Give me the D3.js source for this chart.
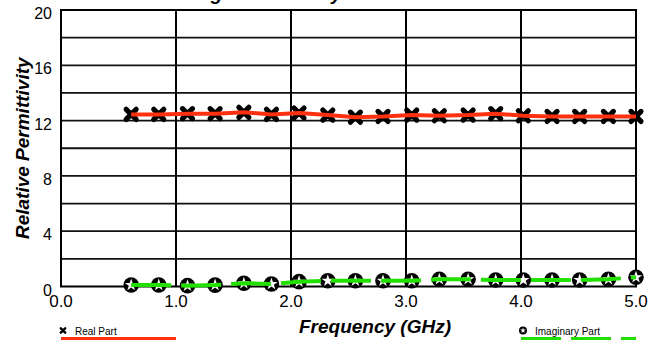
<!DOCTYPE html>
<html>
<head>
<meta charset="utf-8">
<script src="https://cdn.jsdelivr.net/npm/d3@7"></script>
<style>
  body { margin: 0; background: #fff; }
  text { font-family: "Liberation Sans", Arial, Helvetica, sans-serif; }
</style>
</head>
<body>
<div id="chart"></div>
<script>
// Data
var freq = [0.61, 0.85, 1.10, 1.34, 1.59, 1.83, 2.07, 2.32, 2.56, 2.80, 3.05, 3.29, 3.54, 3.78, 4.02, 4.27, 4.51, 4.76, 5.00];
var realPart = [12.45, 12.45, 12.50, 12.50, 12.60, 12.45, 12.55, 12.40, 12.25, 12.30, 12.40, 12.35, 12.40, 12.50, 12.35, 12.30, 12.30, 12.30, 12.30];
var imagPart = [0.11, 0.11, 0.06, 0.10, 0.23, 0.18, 0.35, 0.42, 0.42, 0.42, 0.42, 0.52, 0.52, 0.47, 0.47, 0.47, 0.47, 0.52, 0.67];
var xTicks = [0, 1, 2, 3, 4, 5];
var yTicks = [0, 4, 8, 12, 16, 20];
var yGrid = [2, 4, 6, 8, 10, 12, 14, 16, 18];

var W = 659, H = 340;
var margin = { top: 10, right: 23, bottom: 53.5, left: 61 };

var svg = d3.select("#chart").append("svg")
    .attr("width", W)
    .attr("height", H);

var x = d3.scaleLinear().domain([0, 5]).range([margin.left, W - margin.right]);
var y = d3.scaleLinear().domain([0, 20]).range([H - margin.bottom, margin.top]);

// title, mostly cut off at top
svg.append("text")
    .attr("x", 158)
    .attr("y", 0)
    .style("font-size", "19px")
    .style("font-weight", "bold")
    .style("font-style", "italic")
    .text("Average Permittivity");

// grid
svg.append("g").selectAll("line")
    .data(yGrid)
    .enter().append("line")
    .attr("x1", x(0)).attr("x2", x(5))
    .attr("y1", function (d) { return y(d); })
    .attr("y2", function (d) { return y(d); })
    .attr("stroke", "#111")
    .attr("stroke-width", 1.8);

svg.append("g").selectAll("line")
    .data([1, 2, 3, 4])
    .enter().append("line")
    .attr("y1", y(0)).attr("y2", y(20))
    .attr("x1", function (d) { return x(d); })
    .attr("x2", function (d) { return x(d); })
    .attr("stroke", "#000")
    .attr("stroke-width", 2);

svg.append("rect")
    .attr("x", x(0)).attr("y", y(20))
    .attr("width", x(5) - x(0)).attr("height", y(0) - y(20))
    .attr("fill", "none")
    .attr("stroke", "#000")
    .attr("stroke-width", 2);

// tick labels
svg.append("g").selectAll("text")
    .data(yTicks)
    .enter().append("text")
    .attr("x", 52)
    .attr("y", function (d) { return y(d) + 9; })
    .attr("text-anchor", "end")
    .style("font-size", "16px")
    .text(function (d) { return d; });

svg.append("g").selectAll("text")
    .data(xTicks)
    .enter().append("text")
    .attr("x", function (d) { return x(d); })
    .attr("y", 307)
    .attr("text-anchor", "middle")
    .style("font-size", "17px")
    .text(function (d) { return d.toFixed(1); });

// axis titles
svg.append("text")
    .attr("transform", "translate(29," + y(10) + ") rotate(-90)")
    .attr("text-anchor", "middle")
    .style("font-size", "19px")
    .style("font-weight", "bold")
    .style("font-style", "italic")
    .text("Relative Permittivity");

svg.append("text")
    .attr("x", 375)
    .attr("y", 333)
    .attr("text-anchor", "middle")
    .style("font-size", "19px")
    .style("font-weight", "bold")
    .style("font-style", "italic")
    .text("Frequency (GHz)");

// markers
var crossPath = function (s) {
    return "M" + (-s) + "," + (-s) + "L" + s + "," + s + "M" + (-s) + "," + s + "L" + s + "," + (-s);
};
var star = d3.symbol().type(d3.symbolStar);

svg.append("g").selectAll("path")
    .data(freq)
    .enter().append("path")
    .attr("transform", function (d, i) { return "translate(" + x(d) + "," + y(realPart[i]) + ")"; })
    .attr("d", crossPath(5))
    .attr("stroke", "#000")
    .attr("stroke-width", 5.2)
    .attr("stroke-linecap", "round");

var imagMarks = svg.append("g").selectAll("g")
    .data(freq)
    .enter().append("g")
    .attr("transform", function (d, i) { return "translate(" + x(d) + "," + y(imagPart[i]) + ")"; });
imagMarks.append("circle").attr("r", 7.8).attr("fill", "#000");
imagMarks.append("path").attr("d", star.size(48)()).attr("fill", "#fff");

// lines on top of markers
var seriesLine = d3.line()
    .x(function (d, i) { return x(freq[i]); })
    .y(function (d) { return y(d); });

svg.append("path")
    .datum(realPart)
    .attr("d", seriesLine)
    .attr("fill", "none")
    .attr("stroke", "#ff3010")
    .attr("stroke-width", 4);

svg.append("path")
    .datum(imagPart)
    .attr("d", seriesLine)
    .attr("fill", "none")
    .attr("stroke", "#22e000")
    .attr("stroke-width", 4)
    .attr("stroke-dasharray", "40,10");

// legend
svg.append("path")
    .attr("transform", "translate(63,330.5)")
    .attr("d", crossPath(2.2))
    .attr("stroke", "#000")
    .attr("stroke-width", 2.4)
    .attr("stroke-linecap", "round");
svg.append("text")
    .attr("x", 75).attr("y", 334.5)
    .style("font-size", "10px")
    .text("Real Part");
svg.append("line")
    .attr("x1", 61).attr("x2", 176)
    .attr("y1", 339).attr("y2", 339)
    .attr("stroke", "#ff3010")
    .attr("stroke-width", 4);

svg.append("circle")
    .attr("cx", 523).attr("cy", 330.5).attr("r", 4)
    .attr("fill", "#000");
svg.append("path")
    .attr("transform", "translate(523,330.5)")
    .attr("d", star.size(10)())
    .attr("fill", "#fff");
svg.append("text")
    .attr("x", 535).attr("y", 334.5)
    .style("font-size", "10px")
    .text("Imaginary Part");
svg.append("line")
    .attr("x1", 521).attr("x2", 636)
    .attr("y1", 339).attr("y2", 339)
    .attr("stroke", "#22e000")
    .attr("stroke-width", 4)
    .attr("stroke-dasharray", "40,10");
</script>
</body>
</html>
